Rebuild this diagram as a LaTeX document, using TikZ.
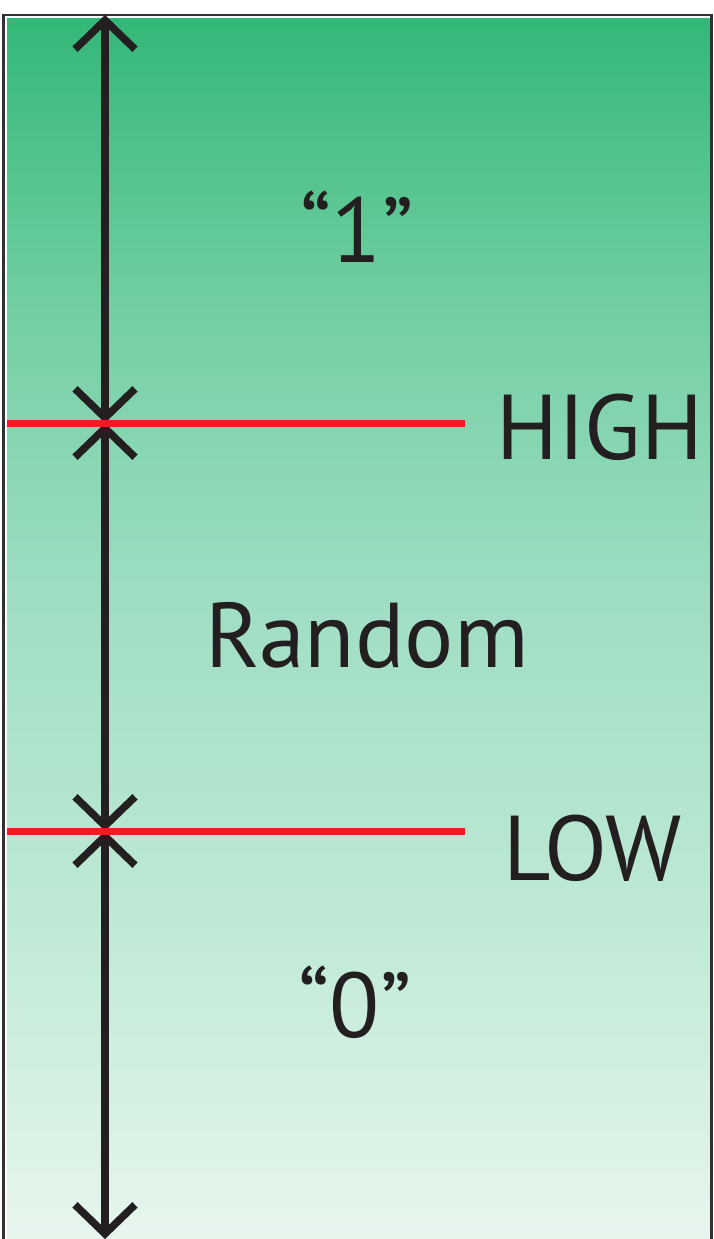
\documentclass[tikz,border=0pt]{standalone}
\usepackage{fontspec}
\setmainfont{PT Sans}
\usetikzlibrary{arrows.meta}
\definecolor{ink}{RGB}{35,31,32}
\definecolor{signal}{RGB}{237,28,36}
\definecolor{framegray}{RGB}{50,50,52}
\definecolor{g0}{RGB}{51,184,120}
\definecolor{g1}{RGB}{115,207,163}
\definecolor{g2}{RGB}{160,222,196}
\definecolor{g3}{RGB}{190,233,213}
\definecolor{g4}{RGB}{232,246,238}
% vertical background gradient, dark green at the top fading to pale green
\pgfdeclareverticalshading{levels}{100bp}{color(0bp)=(g4); color(25bp)=(g4); color(38.5bp)=(g3); color(51bp)=(g2); color(63bp)=(g1); color(75bp)=(g0); color(100bp)=(g0)}
\tikzset{
  dimarrow/.style={draw=ink, line width=7.5pt,
    {Straight Barb[length=29pt,width=60pt]}-{Straight Barb[length=29pt,width=60pt]}},
  threshold/.style={draw=signal, line width=7pt},
  label/.style={text=ink, inner sep=0pt, font=\fontsize{92}{92}\selectfont},
}
\begin{document}
\begin{tikzpicture}[x=1pt,y=-1pt]
  \useasboundingbox (0,0) rectangle (713,1239);
  \clip (0,0) rectangle (713,1239);
  \fill[white] (0,0) rectangle (713,1239);
  % shaded panel and its frame
  \shade[shading=levels] (7,19) rectangle (709.5,1245);
  \draw[framegray, line width=2.5pt] (3.5,1260) -- (3.5,15) -- (711.5,15) -- (711.5,1260);
  % level coordinates along the axis
  \coordinate (top) at (105,15);
  \coordinate (high) at (105,423);
  \coordinate (low) at (105,831);
  \coordinate (bot) at (105,1239);
  \coordinate (highend) at (465,423);
  \coordinate (lowend) at (465,831);
  \coordinate (highstart) at (7,423);
  \coordinate (lowstart) at (7,831);
  % dimension arrows between the levels
  \draw[dimarrow] (top) -- (high);
  \draw[dimarrow] (high) -- (low);
  \draw[dimarrow] (low) -- (bot);
  % threshold lines
  \draw[threshold] (highstart) -- (highend);
  \draw[threshold] (lowstart) -- (lowend);
  % labels
  \node[label, anchor=base] (one) at (357,262) {“1”};
  \node[label, anchor=base west] (hightext) at (496,459) {HIGH};
  \node[label, anchor=base] (random) at (367,667) {Random};
  \node[label, anchor=base west] (lowtext) at (503,880) {LOW};
  \node[label, anchor=base] (zero) at (355,1037) {“0”};
\end{tikzpicture}
\end{document}
